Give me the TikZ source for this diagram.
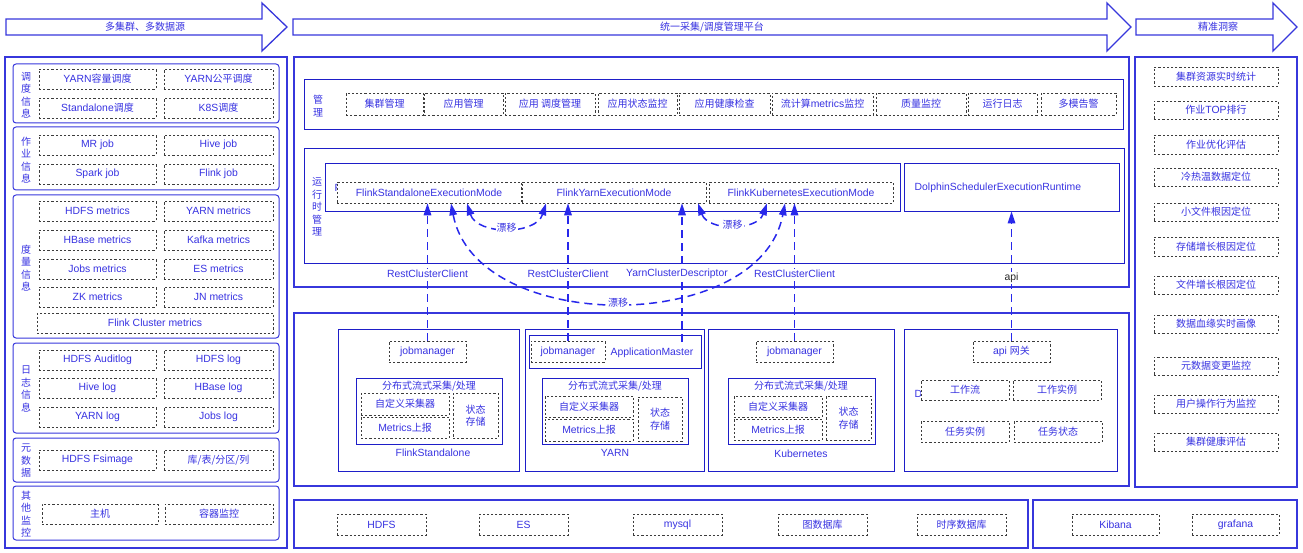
\documentclass[tikz,border=0pt]{standalone}
\usepackage{fontspec}
\setmainfont{Liberation Sans}[Scale=1.04]
\newfontfamily\cjk{Noto Sans CJK SC}
\usetikzlibrary{arrows.meta,calc}
\definecolor{frameblue}{RGB}{55,55,220}
\definecolor{lineblue}{RGB}{30,30,200}
\definecolor{txtblue}{RGB}{55,50,225}
\definecolor{dashgray}{RGB}{60,60,60}
\definecolor{flowblue}{RGB}{40,40,235}
\tikzset{
    cell/.style n args={4}{
            at={({(#1+#3)/2},{(#2+#4)/2})},
            minimum width={(#3)-(#1)}, minimum height={(#4)-(#2)}
        },
    frame/.style={draw=frameblue, line width=1.4pt, inner sep=0pt},
    group/.style={draw=frameblue, line width=1pt, rounded corners=3pt, inner sep=0pt},
    solid box/.style={draw=lineblue, line width=0.8pt, inner sep=0pt},
    dbox/.style={draw=dashgray, dash pattern=on 2.2pt off 2pt, line width=0.6pt, fill=white, inner sep=0pt},
    zh/.style={font=\cjk\fontsize{10}{12.5}\selectfont},
    flow/.style={draw=flowblue, line width=1.5pt, dash pattern=on 8pt off 5pt, -{Triangle[width=7.5pt,length=12pt]}},
    drift/.style={flow, {Triangle[width=7.5pt,length=12pt]}-{Triangle[width=7.5pt,length=12pt]}},
    lbl/.style={fill=white, inner sep=1pt},
    bigarrow/.style={draw=frameblue, line width=1.3pt, fill=white},
}
\begin{document}
\begin{tikzpicture}[x=1pt, y=-1pt, every node/.style={text=txtblue, font=\fontsize{10}{12}\selectfont}]
        \useasboundingbox (0,0) rectangle (1303,553);
        %top arrows
        \draw[bigarrow] (6,19) -- (262,19) -- (262,3) -- (287,27) -- (262,51) -- (262,35) -- (6,35) -- cycle;
        \node[zh] (srcarrow) at (145,27) {多集群、多数据源};
        \draw[bigarrow] (293,19) -- (1107,19) -- (1107,3) -- (1131,27) -- (1107,51) -- (1107,35) -- (293,35) -- cycle;
        \node[zh] (platarrow) at (712,27) {统一采集/调度管理平台};
        \draw[bigarrow] (1136,19) -- (1273,19) -- (1273,3) -- (1297,27) -- (1273,51) -- (1273,35) -- (1136,35) -- cycle;
        \node[zh] (insarrow) at (1218,27) {精准洞察};
        %left panel: sources
        \node[frame, cell={5}{57}{287}{548}] (srcpanel) {};
        \node[group, cell={13}{64}{279}{123}] (schedgrp) {};
        \node[zh, align=center] at (26,95) {调\\度\\信\\息};
        \node[dbox, cell={39}{69}{156}{89}] (yarncap) {YARN{\cjk 容量调度}};
        \node[dbox, cell={164}{69}{273}{89}] (yarnfair) {YARN{\cjk 公平调度}};
        \node[dbox, cell={39}{98}{156}{118}] (sasched) {Standalone{\cjk 调度}};
        \node[dbox, cell={164}{98}{273}{118}] (k8ssched) {K8S{\cjk 调度}};
        \node[group, cell={13}{127}{279}{190}] (jobgrp) {};
        \node[zh, align=center] at (26,160) {作\\业\\信\\息};
        \node[dbox, cell={39}{135}{156}{155}] (mrjob) {MR job};
        \node[dbox, cell={164}{135}{273}{155}] (hivejob) {Hive job};
        \node[dbox, cell={39}{164}{156}{184}] (sparkjob) {Spark job};
        \node[dbox, cell={164}{164}{273}{184}] (flinkjob) {Flink job};
        \node[group, cell={13}{195}{279}{338}] (metricgrp) {};
        \node[zh, align=center] at (26,268) {度\\量\\信\\息};
        \node[dbox, cell={39}{201}{156}{221}] (hdfsm) {HDFS metrics};
        \node[dbox, cell={164}{201}{273}{221}] (yarnm) {YARN metrics};
        \node[dbox, cell={39}{230}{156}{250}] (hbasem) {HBase metrics};
        \node[dbox, cell={164}{230}{273}{250}] (kafkam) {Kafka metrics};
        \node[dbox, cell={39}{259}{156}{279}] (jobsm) {Jobs metrics};
        \node[dbox, cell={164}{259}{273}{279}] (esm) {ES metrics};
        \node[dbox, cell={39}{287}{156}{307}] (zkm) {ZK metrics};
        \node[dbox, cell={164}{287}{273}{307}] (jnm) {JN metrics};
        \node[dbox, cell={37}{313}{273}{333}] (flinkcm) {Flink Cluster metrics};
        \node[group, cell={13}{343}{279}{433}] (loggrp) {};
        \node[zh, align=center] at (26,389) {日\\志\\信\\息};
        \node[dbox, cell={39}{350}{156}{370}] (hdfsaudit) {HDFS Auditlog};
        \node[dbox, cell={164}{350}{273}{370}] (hdfslog) {HDFS log};
        \node[dbox, cell={39}{378}{156}{398}] (hivelog) {Hive log};
        \node[dbox, cell={164}{378}{273}{398}] (hbaselog) {HBase log};
        \node[dbox, cell={39}{407}{156}{427}] (yarnlog) {YARN log};
        \node[dbox, cell={164}{407}{273}{427}] (jobslog) {Jobs log};
        \node[group, cell={13}{438}{279}{482}] (metagrp) {};
        \node[zh, align=center] at (26,461) {元\\数\\据};
        \node[dbox, cell={39}{450}{156}{470}] (fsimage) {HDFS Fsimage};
        \node[dbox, zh, cell={164}{450}{273}{470}] (tables) {库/表/分区/列};
        \node[group, cell={13}{486}{279}{540}] (othergrp) {};
        \node[zh, align=center] at (26,514) {其\\他\\监\\控};
        \node[dbox, zh, cell={42}{504}{158}{524}] (host) {主机};
        \node[dbox, zh, cell={165}{504}{273}{524}] (container) {容器监控};
        %middle panel: management and runtime
        \node[frame, cell={294}{57}{1129}{287}] (platform) {};
        \node[solid box, cell={304}{79}{1123}{129}] (mgmt) {};
        \node[zh, align=center] at (318,106) {管\\理};
        \node[dbox, zh, cell={346}{93}{423}{115}] (clustermg) {集群管理};
        \node[dbox, zh, cell={424}{93}{503}{115}] (appmg) {应用管理};
        \node[dbox, zh, cell={505}{93}{595}{115}] (appsched) {应用 调度管理};
        \node[dbox, zh, cell={598}{93}{677}{115}] (appstate) {应用状态监控};
        \node[dbox, zh, cell={679}{93}{770}{115}] (apphealth) {应用健康检查};
        \node[dbox, cell={772}{93}{873}{115}] (streamm) {{\cjk 流计算}metrics{\cjk 监控}};
        \node[dbox, zh, cell={876}{93}{966}{115}] (quality) {质量监控};
        \node[dbox, zh, cell={968}{93}{1037}{115}] (runlog) {运行日志};
        \node[dbox, zh, cell={1041}{93}{1116}{115}] (alarm) {多模告警};
        \node[solid box, cell={304}{148}{1124}{263}] (runtime) {};
        \node[zh, align=center] at (317,207) {运\\行\\时\\管\\理};
        \node[solid box, cell={325}{163}{900}{211}] (flinkrt) {};
        \node[anchor=west] at (331,188) {Flink};
        \node[dbox, cell={337}{182}{521}{203}] (samode) {FlinkStandaloneExecutionMode};
        \node[dbox, cell={522}{182}{706}{203}] (ymode) {FlinkYarnExecutionMode};
        \node[dbox, cell={709}{182}{893}{203}] (kmode) {FlinkKubernetesExecutionMode};
        \node[solid box, cell={904}{163}{1119}{211}] (dsr) {};
        \node[anchor=west] at (911,188) {DolphinSchedulerExecutionRuntime};
        %middle panel: engines
        \node[frame, cell={294}{313}{1129}{486}] (engine) {};
        \node[solid box, cell={338}{329}{519}{471}] (sabox) {};
        \node[dbox, cell={389}{341}{466}{362}] (sajm) {jobmanager};
        \node[solid box, cell={356}{378}{502}{444}] (sacoll) {};
        \node[zh] at (429,386) {分布式流式采集/处理};
        \node[dbox, zh, cell={361}{393}{449}{415}] (sacustom) {自定义采集器};
        \node[dbox, cell={361}{417}{449}{438}] (sarep) {Metrics{\cjk 上报}};
        \node[dbox, zh, align=center, cell={453}{393}{498}{438}] (sastate) {状态\\存储};
        \node at (433,453) {FlinkStandalone};
        \node[solid box, cell={525}{329}{704}{471}] (ybox) {};
        \node[solid box, cell={529}{335}{701}{368}] (yamgrp) {};
        \node[dbox, cell={531}{341}{605}{362}] (yjm) {jobmanager};
        \node (am) at (652,353) {ApplicationMaster};
        \coordinate (amtip) at (682,342);
        \node[solid box, cell={542}{378}{688}{444}] (ycoll) {};
        \node[zh] at (615,386) {分布式流式采集/处理};
        \node[dbox, zh, cell={545}{396}{633}{417}] (ycustom) {自定义采集器};
        \node[dbox, cell={545}{419}{633}{441}] (yrep) {Metrics{\cjk 上报}};
        \node[dbox, zh, align=center, cell={638}{397}{682}{441}] (ystate) {状态\\存储};
        \node at (615,453) {YARN};
        \node[solid box, cell={708}{329}{894}{471}] (kbox) {};
        \node[dbox, cell={756}{341}{833}{362}] (kjm) {jobmanager};
        \node[solid box, cell={728}{378}{875}{444}] (kcoll) {};
        \node[zh] at (801,386) {分布式流式采集/处理};
        \node[dbox, zh, cell={734}{396}{822}{417}] (kcustom) {自定义采集器};
        \node[dbox, cell={734}{419}{822}{440}] (krep) {Metrics{\cjk 上报}};
        \node[dbox, zh, align=center, cell={826}{396}{871}{440}] (kstate) {状态\\存储};
        \node at (801,454) {Kubernetes};
        \node[solid box, cell={904}{329}{1117}{471}] (dsbox) {};
        \node[anchor=west] at (911,395) {Dolphin};
        \node[dbox, cell={973}{341}{1050}{362}] (apigw) {api {\cjk 网关}};
        \node[dbox, zh, cell={921}{380}{1009}{400}] (workflow) {工作流};
        \node[dbox, zh, cell={1013}{380}{1101}{400}] (workinst) {工作实例};
        \node[dbox, zh, cell={921}{421}{1009}{442}] (taskinst) {任务实例};
        \node[dbox, zh, cell={1014}{421}{1102}{442}] (taskstate) {任务状态};
        %bottom storage and views
        \node[frame, cell={294}{500}{1028}{548}] (storage) {};
        \node[dbox, cell={337}{514}{426}{535}] (hdfs) {HDFS};
        \node[dbox, cell={479}{514}{568}{535}] (es) {ES};
        \node[dbox, cell={633}{514}{722}{535}] (mysql) {mysql};
        \node[dbox, zh, cell={778}{514}{867}{535}] (graphdb) {图数据库};
        \node[dbox, zh, cell={917}{514}{1006}{535}] (tsdb) {时序数据库};
        \node[frame, cell={1033}{500}{1297}{548}] (viz) {};
        \node[dbox, cell={1072}{514}{1159}{535}] (kibana) {Kibana};
        \node[dbox, cell={1192}{514}{1279}{535}] (grafana) {grafana};
        %right panel: insight
        \node[frame, cell={1135}{57}{1297}{487}] (insight) {};
        \node[dbox, zh, cell={1154}{67}{1278}{86}] (resstat) {集群资源实时统计};
        \node[dbox, cell={1154}{101}{1278}{119}] (jobtop) {{\cjk 作业}TOP{\cjk 排行}};
        \node[dbox, zh, cell={1154}{135}{1278}{154}] (jobopt) {作业优化评估};
        \node[dbox, zh, cell={1154}{168}{1278}{186}] (hotcold) {冷热温数据定位};
        \node[dbox, zh, cell={1154}{203}{1278}{221}] (smallfile) {小文件根因定位};
        \node[dbox, zh, cell={1154}{237}{1278}{256}] (storegrow) {存储增长根因定位};
        \node[dbox, zh, cell={1154}{276}{1278}{294}] (filegrow) {文件增长根因定位};
        \node[dbox, zh, cell={1154}{315}{1278}{333}] (lineage) {数据血缘实时画像};
        \node[dbox, zh, cell={1154}{357}{1278}{375}] (metachg) {元数据变更监控};
        \node[dbox, zh, cell={1154}{395}{1278}{413}] (useract) {用户操作行为监控};
        \node[dbox, zh, cell={1154}{433}{1278}{451}] (health) {集群健康评估};
        %submit arrows
        \draw[flow] (sajm.north) -- node[lbl, pos=0.49] {RestClusterClient} (sajm.north |- samode.south);
        \draw[flow] (yjm.north) -- node[lbl, pos=0.49] {RestClusterClient} (yjm.north |- ymode.south);
        \draw[flow] (amtip) -- node[lbl, pos=0.49, xshift=-5pt] {YarnClusterDescriptor} (amtip |- ymode.south);
        \draw[flow] (kjm.north) -- node[lbl, pos=0.49] {RestClusterClient} (kjm.north |- kmode.south);
        \draw[flow] (apigw.north) -- node[lbl, pos=0.485, text=black!85] {api} (apigw.north |- dsr.south);
        %drift arcs
        \coordinate (d1a) at ([xshift=38pt]samode.south);
        \coordinate (d1b) at ([xshift=-68pt]ymode.south);
        \coordinate (d2a) at ([xshift=84pt]ymode.south);
        \coordinate (d2b) at ([xshift=-34pt]kmode.south);
        \coordinate (d3a) at ([xshift=22pt]samode.south);
        \coordinate (d3b) at ([xshift=-16pt]kmode.south);
        \draw[drift] (d1a) .. controls ($(d1a)+(10,32)$) and ($(d1b)+(-10,32)$) .. node[lbl, zh, midway] {漂移} (d1b);
        \draw[drift] (d2a) .. controls ($(d2a)+(10,28)$) and ($(d2b)+(-10,28)$) .. node[lbl, zh, midway] {漂移} (d2b);
        \draw[drift] (d3a) .. controls ($(d3a)+(25,132)$) and ($(d3b)+(-25,132)$) .. node[lbl, zh, midway] {漂移} (d3b);
    \end{tikzpicture}
\end{document}
